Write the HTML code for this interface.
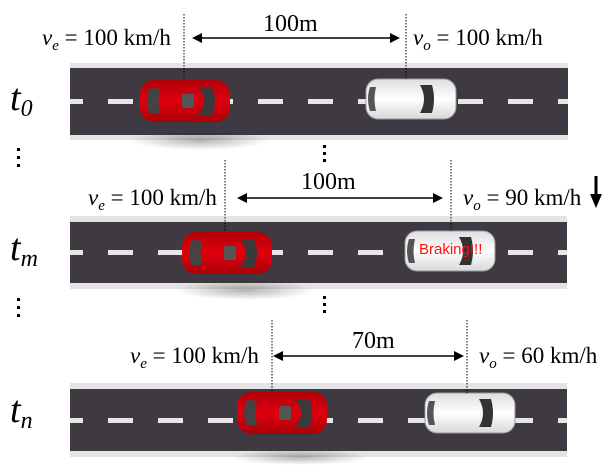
<!DOCTYPE html>
<html><head><style>
html,body{margin:0;padding:0;background:#fff;width:606px;height:468px;overflow:hidden}
text{font-family:"Liberation Serif",serif}
</style></head><body>
<svg width="606" height="468" viewBox="0 0 606 468" xmlns="http://www.w3.org/2000/svg">
<defs>
<radialGradient id="sh" cx="50%" cy="50%" r="50%"><stop offset="0" stop-color="#000" stop-opacity="0.3"/><stop offset="1" stop-color="#000" stop-opacity="0"/></radialGradient>
<linearGradient id="red" x1="0" y1="0" x2="0" y2="1"><stop offset="0" stop-color="#b00008"/><stop offset="0.5" stop-color="#e0000f"/><stop offset="1" stop-color="#a80008"/></linearGradient>
<linearGradient id="wh" x1="0" y1="0" x2="0" y2="1"><stop offset="0" stop-color="#ddd"/><stop offset="0.5" stop-color="#fff"/><stop offset="1" stop-color="#d8d8d8"/></linearGradient>
<pattern id="dash" x="58" y="0" width="50" height="5" patternUnits="userSpaceOnUse"><rect x="0" y="0" width="25" height="5" fill="#e6e6e6"/></pattern>
<g id="redcar">
<rect x="0" y="0" width="90" height="42" rx="14" fill="url(#red)"/>
<path d="M10 8 Q4 21 10 34 L20 33 Q17 21 20 9 Z" fill="#444"/>
<path d="M58 7 Q70 21 58 35 L72 35 Q78 21 72 7 Z" fill="#3a3a3a"/>
<rect x="42" y="14" width="12" height="14" rx="2" fill="#555"/>
</g>
<g id="whcar">
<rect x="0" y="0" width="90" height="40" rx="12" fill="url(#wh)" stroke="#999" stroke-width="1"/>
<path d="M4 8 Q0 20 4 32 L10 32 Q7 20 10 8 Z" fill="#555"/>
<path d="M54 6 Q62 20 54 34 L66 34 Q70 20 66 6 Z" fill="#333"/>
</g>
</defs>

<g>
<rect x="70" y="63" width="498" height="77" fill="#e4e4e4"/>
<rect x="70" y="68" width="498" height="67" fill="#3f3a42"/>
<rect x="70" y="99" width="498" height="5" fill="url(#dash)"/>
<rect x="70" y="216" width="497" height="73" fill="#e4e4e4"/>
<rect x="70" y="222" width="497" height="61" fill="#3f3a42"/>
<rect x="70" y="250" width="497" height="5" fill="url(#dash)"/>
<rect x="70" y="383" width="497" height="74" fill="#e4e4e4"/>
<rect x="70" y="389" width="497" height="62" fill="#3f3a42"/>
<rect x="70" y="418" width="497" height="5" fill="url(#dash)"/>
</g>

<ellipse cx="200" cy="140" rx="70" ry="10" fill="url(#sh)"/>
<ellipse cx="245" cy="290" rx="70" ry="10" fill="url(#sh)"/>
<ellipse cx="300" cy="457" rx="70" ry="8" fill="url(#sh)"/>

<use href="#redcar" x="140" y="80"/>
<use href="#whcar" x="366" y="79"/>
<use href="#redcar" x="182" y="232"/>
<use href="#whcar" x="405" y="231"/>
<use href="#redcar" x="237" y="392"/>
<use href="#whcar" x="425" y="393"/>
<text x="419" y="254" font-size="15" fill="#ff1010" style="font-family:'Liberation Sans',sans-serif">Braking!!!</text>

<g stroke="#000" stroke-width="1" stroke-dasharray="1.5,1.5">
<line x1="184" y1="14" x2="184" y2="80"/>
<line x1="406" y1="14" x2="406" y2="79"/>
<line x1="225" y1="160" x2="225" y2="232"/>
<line x1="451" y1="160" x2="451" y2="231"/>
<line x1="272" y1="320" x2="272" y2="392"/>
<line x1="467" y1="320" x2="467" y2="393"/>
</g>

<g stroke="#000" stroke-width="1.5" fill="#000">
<line x1="198" y1="38" x2="394" y2="38"/>
<path d="M192 38 L202 33 L202 43 Z" stroke="none"/><path d="M400 38 L390 33 L390 43 Z" stroke="none"/>
<line x1="243" y1="198" x2="437" y2="198"/>
<path d="M237 198 L247 193 L247 203 Z" stroke="none"/><path d="M443 198 L433 193 L433 203 Z" stroke="none"/>
<line x1="279" y1="356" x2="458" y2="356"/>
<path d="M273 356 L283 351 L283 361 Z" stroke="none"/><path d="M464 356 L454 351 L454 361 Z" stroke="none"/>
<line x1="596" y1="176" x2="596" y2="196" stroke-width="3"/>
<path d="M590 194 L602 194 L596 208 Z" stroke="none"/>
</g>

<g font-size="23" fill="#000">
<text x="263" y="31" font-size="24">100m</text>
<text x="301" y="189" font-size="24">100m</text>
<text x="352" y="348" font-size="24">70m</text>
<text x="42" y="45"><tspan font-style="italic">v</tspan><tspan font-style="italic" font-size="15" dy="5">e</tspan><tspan dy="-5"> = 100 km/h</tspan></text>
<text x="413" y="45"><tspan font-style="italic">v</tspan><tspan font-style="italic" font-size="15" dy="5">o</tspan><tspan dy="-5"> = 100 km/h</tspan></text>
<text x="88" y="205"><tspan font-style="italic">v</tspan><tspan font-style="italic" font-size="15" dy="5">e</tspan><tspan dy="-5"> = 100 km/h</tspan></text>
<text x="463" y="205"><tspan font-style="italic">v</tspan><tspan font-style="italic" font-size="15" dy="5">o</tspan><tspan dy="-5"> = 90 km/h</tspan></text>
<text x="130" y="363"><tspan font-style="italic">v</tspan><tspan font-style="italic" font-size="15" dy="5">e</tspan><tspan dy="-5"> = 100 km/h</tspan></text>
<text x="479" y="363"><tspan font-style="italic">v</tspan><tspan font-style="italic" font-size="15" dy="5">o</tspan><tspan dy="-5"> = 60 km/h</tspan></text>
</g>
<g font-size="38" font-style="italic" fill="#000">
<text x="10" y="110">t<tspan font-size="24" dy="6">0</tspan></text>
<text x="10" y="260">t<tspan font-size="24" dy="6">m</tspan></text>
<text x="10" y="422">t<tspan font-size="24" dy="6">n</tspan></text>
</g>
<g fill="#000">
<rect x="17" y="148" width="3" height="3"/><rect x="17" y="156" width="3" height="3"/><rect x="17" y="164" width="3" height="3"/>
<rect x="17" y="298" width="3" height="3"/><rect x="17" y="306" width="3" height="3"/><rect x="17" y="314" width="3" height="3"/>
<rect x="323" y="145" width="3" height="3"/><rect x="323" y="152" width="3" height="3"/><rect x="323" y="159" width="3" height="3"/>
<rect x="323" y="296" width="3" height="3"/><rect x="323" y="303" width="3" height="3"/><rect x="323" y="310" width="3" height="3"/>
</g>
</svg>
</body></html>
